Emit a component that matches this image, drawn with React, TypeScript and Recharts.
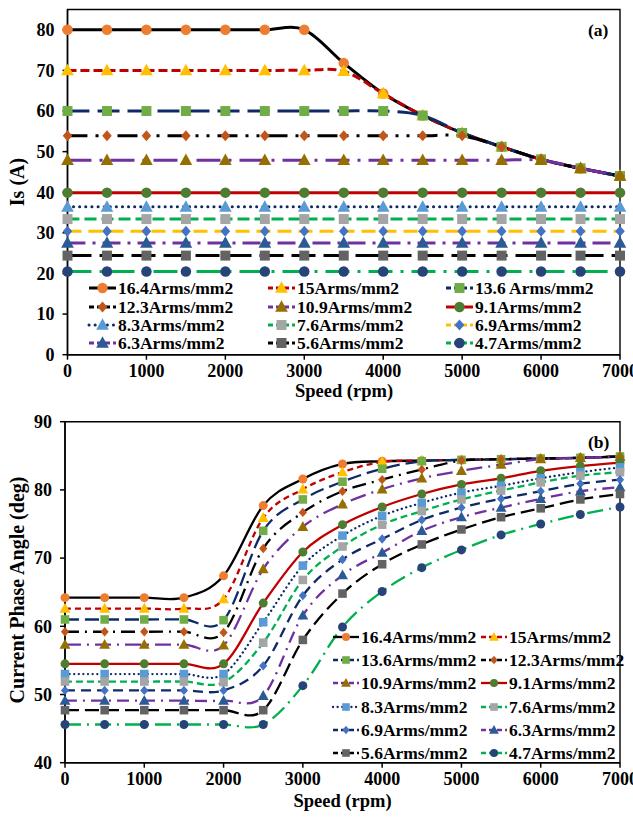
import React from 'react';
import { LineChart, Line, XAxis, YAxis, ReferenceArea } from 'recharts';

// Shared x categories (motor speed, rpm)
const speedRpm = [0, 500, 1000, 1500, 2000, 2500, 3000, 3500, 4000, 4500, 5000, 5500, 6000, 6500, 7000];
const speedTicks = [0, 1000, 2000, 3000, 4000, 5000, 6000, 7000];
const currentTicks = [0, 10, 20, 30, 40, 50, 60, 70, 80];
const angleTicks = [40, 50, 60, 70, 80, 90];

// Current density of each curve (Arms/mm2)
const densities = ['16.4', '15', '13.6', '12.3', '10.9', '9.1', '8.3', '7.6', '6.9', '6.3', '5.6', '4.7'];

// (a) stator current Is (A)
const is164 = [80, 80, 80, 80, 80, 80, 80, 71.8, 64.3, 58.9, 54.6, 51.2, 48.1, 45.9, 44.0];
const is150 = [70, 70, 70, 70, 70, 70, 70, 69.8, 64.3, 58.9, 54.6, 51.2, 48.1, 45.9, 44.0];
const is136 = [60, 60, 60, 60, 60, 60, 60, 60, 60, 58.9, 54.6, 51.2, 48.1, 45.9, 44.0];
const is123 = [53.9, 53.9, 53.9, 53.9, 53.9, 53.9, 53.9, 53.9, 53.9, 53.9, 53.9, 51.2, 48.1, 45.9, 44.0];
const is109 = [47.9, 47.9, 47.9, 47.9, 47.9, 47.9, 47.9, 47.9, 47.9, 47.9, 47.9, 47.9, 47.9, 45.9, 44.0];
const is91 = [39.9, 39.9, 39.9, 39.9, 39.9, 39.9, 39.9, 39.9, 39.9, 39.9, 39.9, 39.9, 39.9, 39.9, 39.9];
const is83 = [36.4, 36.4, 36.4, 36.4, 36.4, 36.4, 36.4, 36.4, 36.4, 36.4, 36.4, 36.4, 36.4, 36.4, 36.4];
const is76 = [33.4, 33.4, 33.4, 33.4, 33.4, 33.4, 33.4, 33.4, 33.4, 33.4, 33.4, 33.4, 33.4, 33.4, 33.4];
const is69 = [30.4, 30.4, 30.4, 30.4, 30.4, 30.4, 30.4, 30.4, 30.4, 30.4, 30.4, 30.4, 30.4, 30.4, 30.4];
const is63 = [27.5, 27.5, 27.5, 27.5, 27.5, 27.5, 27.5, 27.5, 27.5, 27.5, 27.5, 27.5, 27.5, 27.5, 27.5];
const is56 = [24.4, 24.4, 24.4, 24.4, 24.4, 24.4, 24.4, 24.4, 24.4, 24.4, 24.4, 24.4, 24.4, 24.4, 24.4];
const is47 = [20.5, 20.5, 20.5, 20.5, 20.5, 20.5, 20.5, 20.5, 20.5, 20.5, 20.5, 20.5, 20.5, 20.5, 20.5];

// (b) current phase angle (deg)
const ang164 = [64.2, 64.2, 64.2, 64.2, 67.4, 77.7, 81.6, 83.8, 84.2, 84.3, 84.4, 84.5, 84.6, 84.7, 84.9];
const ang150 = [62.6, 62.6, 62.6, 62.6, 64.0, 75.9, 80.1, 82.6, 84.1, 84.3, 84.4, 84.5, 84.6, 84.7, 84.9];
const ang136 = [61.0, 61.0, 61.0, 61.0, 60.9, 74.0, 78.6, 81.2, 83.1, 84.2, 84.4, 84.5, 84.6, 84.7, 84.9];
const ang123 = [59.2, 59.2, 59.2, 59.2, 59.1, 71.4, 76.7, 79.8, 81.5, 83.0, 84.3, 84.5, 84.6, 84.7, 84.9];
const ang109 = [57.3, 57.3, 57.3, 57.3, 57.2, 68.4, 74.6, 77.9, 80.1, 81.7, 82.8, 83.7, 84.5, 84.7, 84.9];
const ang91 = [54.5, 54.5, 54.5, 54.5, 54.5, 63.4, 70.9, 74.9, 77.5, 79.4, 80.8, 81.7, 82.8, 83.5, 84.0];
const ang83 = [53.0, 53.0, 53.0, 53.0, 53.0, 60.6, 68.9, 73.3, 76.2, 78.1, 79.6, 80.6, 81.7, 82.6, 83.3];
const ang76 = [51.9, 51.9, 51.9, 51.9, 51.8, 57.6, 66.8, 71.7, 74.9, 76.9, 78.6, 79.9, 81.1, 82.1, 82.6];
const ang69 = [50.6, 50.6, 50.6, 50.6, 50.6, 54.2, 64.5, 69.8, 72.8, 75.6, 77.4, 78.7, 79.8, 80.9, 81.5];
const ang63 = [49.1, 49.1, 49.1, 49.1, 49.1, 49.8, 61.6, 67.5, 70.8, 74.0, 76.0, 77.4, 78.7, 79.8, 80.4];
const ang56 = [47.7, 47.7, 47.7, 47.7, 47.7, 47.7, 58.0, 64.8, 69.1, 72.0, 74.2, 76.0, 77.3, 78.6, 79.4];
const ang47 = [45.6, 45.6, 45.6, 45.6, 45.6, 45.6, 51.3, 59.9, 65.1, 68.6, 71.2, 73.4, 75.0, 76.4, 77.5];

const currentSeries = [is164, is150, is136, is123, is109, is91, is83, is76, is69, is63, is56, is47];
const angleSeries = [ang164, ang150, ang136, ang123, ang109, ang91, ang83, ang76, ang69, ang63, ang56, ang47];

const legendNamesA = densities.map((d) => (d === '13.6' ? `${d} Arms/mm2` : `${d}Arms/mm2`));
const legendNamesB = densities.map((d) => `${d}Arms/mm2`);

const rowsA = speedRpm.map((speed, i) => {
  const row: Record<string, number> = { speed };
  currentSeries.forEach((s, k) => (row[`s${k}`] = s[i]));
  return row;
});
const rowsB = speedRpm.map((speed, i) => {
  const row: Record<string, number> = { speed };
  angleSeries.forEach((s, k) => (row[`s${k}`] = s[i]));
  return row;
});

type Shape = 'circle' | 'square' | 'triangle' | 'diamond';
interface SeriesStyle {
  stroke: string;
  dash?: string;
  dotted?: boolean;
  shape: Shape;
  fill: string;
}

const ORANGE = '#ED7D31';
const GOLD = '#FFC000';
const LEAF = '#70AD47';
const BROWN = '#C0561A';
const OLIVE = '#957000';
const FOREST = '#4E7D32';
const SKY = '#5B9BD5';
const GREY = '#A5A5A5';
const BLUE = '#4472C4';
const STEEL = '#2B5B94';
const SLATE = '#636363';
const NAVYDOT = '#264478';
const RED = '#C00000';
const NAVY = '#0E2A66';
const PURPLE = '#7030A0';
const GREEN = '#00B050';

const stylesA: SeriesStyle[] = [
  { stroke: '#000', shape: 'circle', fill: ORANGE },
  { stroke: RED, dash: '9 4', shape: 'triangle', fill: GOLD },
  { stroke: NAVY, dash: '22 8', shape: 'square', fill: LEAF },
  { stroke: '#000', dash: '20 8 3 8 3 8', shape: 'diamond', fill: BROWN },
  { stroke: PURPLE, dash: '24 8 3 8', shape: 'triangle', fill: OLIVE },
  { stroke: RED, shape: 'circle', fill: FOREST },
  { stroke: NAVY, dash: '0.1 6', dotted: true, shape: 'triangle', fill: SKY },
  { stroke: GREEN, dash: '12 5', shape: 'square', fill: GREY },
  { stroke: GOLD, dash: '14 7', shape: 'diamond', fill: BLUE },
  { stroke: PURPLE, dash: '18 7 3 7', shape: 'triangle', fill: STEEL },
  { stroke: '#000', dash: '24 8', shape: 'square', fill: SLATE },
  { stroke: GREEN, dash: '24 8 3 8', shape: 'circle', fill: NAVYDOT },
];

const stylesB: SeriesStyle[] = [
  { stroke: '#000', shape: 'circle', fill: ORANGE },
  { stroke: RED, dash: '6 4', shape: 'triangle', fill: GOLD },
  { stroke: NAVY, dash: '14 6', shape: 'square', fill: LEAF },
  { stroke: '#000', dash: '14 6 2 6', shape: 'diamond', fill: BROWN },
  { stroke: PURPLE, dash: '16 6 2 6', shape: 'triangle', fill: OLIVE },
  { stroke: RED, shape: 'circle', fill: FOREST },
  { stroke: NAVY, dash: '0.1 4.5', dotted: true, shape: 'square', fill: SKY },
  { stroke: GREEN, dash: '7 4', shape: 'square', fill: GREY },
  { stroke: NAVY, dash: '10 6', shape: 'diamond', fill: BLUE },
  { stroke: PURPLE, dash: '12 6 2 6', shape: 'triangle', fill: STEEL },
  { stroke: '#000', dash: '14 6', shape: 'square', fill: SLATE },
  { stroke: GREEN, dash: '16 6 2 6', shape: 'circle', fill: NAVYDOT },
];

// Cardinal spline (tension 0, i.e. Catmull-Rom) used as a smooth line interpolator
function smoothCurve(context: any) {
  const k = 1 / 6;
  let x0 = NaN, x1 = NaN, x2 = NaN, y0 = NaN, y1 = NaN, y2 = NaN;
  let pt = 0;
  let line: number = NaN;
  const seg = (x: number, y: number) => {
    context.bezierCurveTo(
      x1 + k * (x2 - x0),
      y1 + k * (y2 - y0),
      x2 + k * (x1 - x),
      y2 + k * (y1 - y),
      x2,
      y2
    );
  };
  return {
    areaStart() { line = 0; },
    areaEnd() { line = NaN; },
    lineStart() { x0 = x1 = x2 = y0 = y1 = y2 = NaN; pt = 0; },
    lineEnd() {
      if (pt === 2) context.lineTo(x2, y2);
      else if (pt === 3) seg(x1, y1);
      if (line || (line !== 0 && pt === 1)) context.closePath();
      line = 1 - line;
    },
    point(xIn: number, yIn: number) {
      const x = +xIn;
      const y = +yIn;
      if (pt === 0) {
        pt = 1;
        if (line) context.lineTo(x, y); else context.moveTo(x, y);
      } else if (pt === 1) {
        pt = 2;
        x1 = x; y1 = y;
      } else {
        pt = 3;
        seg(x, y);
      }
      x0 = x1; x1 = x2; x2 = x;
      y0 = y1; y1 = y2; y2 = y;
    },
  };
}

const markerScale: Record<Shape, number> = { circle: 1, square: 0.95, triangle: 1.1, diamond: 0.95 };

function MarkerShape({ shape, x, y, size, fill }: { shape: Shape; x: number; y: number; size: number; fill: string }) {
  const s = size * markerScale[shape];
  if (shape === 'circle') return <circle cx={x} cy={y} r={s / 2} fill={fill} />;
  if (shape === 'square') return <rect x={x - s / 2} y={y - s / 2} width={s} height={s} fill={fill} />;
  if (shape === 'triangle') {
    const pts = `${x},${y - s * 0.58} ${x + s * 0.55},${y + s * 0.42} ${x - s * 0.55},${y + s * 0.42}`;
    return <polygon points={pts} fill={fill} />;
  }
  const pts = `${x},${y - s * 0.55} ${x + s * 0.48},${y} ${x},${y + s * 0.55} ${x - s * 0.48},${y}`;
  return <polygon points={pts} fill={fill} />;
}

function makeDot(st: SeriesStyle, size: number) {
  return (props: any) => {
    const { cx, cy, index } = props;
    if (cx == null || cy == null) return <g key={`m${index}`} />;
    return <MarkerShape key={`m${index}`} shape={st.shape} x={cx} y={cy} size={size} fill={st.fill} />;
  };
}

const FONT = '"Liberation Serif", "Times New Roman", serif';
const tickStyle = { fill: '#000', fontSize: 18, fontWeight: 700, fontFamily: FONT };
const axisStroke = { stroke: '#000', strokeWidth: 1.5 };

function titleText(x: number, y: number, text: string, size: number, rotate = false) {
  return (
    <text
      x={x}
      y={y}
      textAnchor="middle"
      dominantBaseline="central"
      transform={rotate ? `rotate(-90 ${x} ${y})` : undefined}
      style={{ fontFamily: FONT, fontSize: size, fontWeight: 700, fill: '#000' }}
    >
      {text}
    </text>
  );
}

function LegendSample({ st, width, lineWidth, markerSize }: { st: SeriesStyle; width: number; lineWidth: number; markerSize: number }) {
  return (
    <svg width={width} height={16} style={{ display: 'block', overflow: 'visible' }}>
      <line
        x1={0}
        x2={width}
        y1={8}
        y2={8}
        stroke={st.stroke}
        strokeWidth={lineWidth}
        strokeDasharray={st.dash ? (st.dotted ? st.dash : '5 3') : undefined}
        strokeLinecap={st.dotted ? 'round' : 'butt'}
      />
      <MarkerShape shape={st.shape} x={width / 2} y={8} size={markerSize} fill={st.fill} />
    </svg>
  );
}

function ChartLegend({
  names,
  styles,
  cols,
  colX,
  rowY,
  sampleWidth,
  lineWidth,
  markerSize,
}: {
  names: string[];
  styles: SeriesStyle[];
  cols: number;
  colX: number[];
  rowY: number[];
  sampleWidth: number;
  lineWidth: number;
  markerSize: number;
}) {
  return (
    <>
      {names.map((name, i) => {
        const c = i % cols;
        const r = Math.floor(i / cols);
        return (
          <div
            key={name}
            style={{
              position: 'absolute',
              left: colX[c],
              top: rowY[r] - 10,
              height: 20,
              display: 'flex',
              alignItems: 'center',
              whiteSpace: 'nowrap',
              fontFamily: FONT,
              fontSize: 17.5,
              fontWeight: 700,
              color: '#000',
            }}
          >
            <LegendSample st={styles[i]} width={sampleWidth} lineWidth={lineWidth} markerSize={markerSize} />
            <span style={{ marginLeft: 2, lineHeight: '20px' }}>{name}</span>
          </div>
        );
      })}
    </>
  );
}

export default function App() {
  return (
    <div style={{ position: 'absolute', left: 0, top: 0, width: 633, height: 820, background: '#fff', overflow: 'hidden' }}>
      {/* (a) stator current vs speed */}
      <div style={{ position: 'absolute', left: 0, top: 0 }}>
        <LineChart width={633} height={405} data={rowsA} margin={{ top: 9.5, right: 13, bottom: 0, left: 0 }}>
          <XAxis
            type="number"
            dataKey="speed"
            domain={[0, 7000]}
            ticks={speedTicks}
            interval={0}
            height={50.3}
            tickSize={5}
            tickMargin={5}
            tick={tickStyle}
            axisLine={axisStroke}
            tickLine={axisStroke}
            label={() => titleText(344, 391, 'Speed (rpm)', 18.5)}
          />
          <YAxis
            type="number"
            domain={[0, 85]}
            ticks={currentTicks}
            interval={0}
            width={67.5}
            tickSize={5}
            tickMargin={8}
            tick={tickStyle}
            axisLine={axisStroke}
            tickLine={axisStroke}
            label={() => titleText(17, 182, 'Is (A)', 20, true)}
          />
          <ReferenceArea x1={0} x2={7000} y1={0} y2={85} fill="none" stroke="#000" strokeWidth={1.4} />
          {stylesA.map((st, k) => (
            <Line
              key={`a${k}`}
              dataKey={`s${k}`}
              type={smoothCurve as any}
              stroke={st.stroke}
              strokeWidth={3}
              strokeDasharray={st.dash}
              strokeLinecap={st.dotted ? 'round' : 'butt'}
              dot={makeDot(st, 10.5)}
              activeDot={false}
              isAnimationActive={false}
            />
          ))}
        </LineChart>
        <div style={{ position: 'absolute', left: 588, top: 20, fontFamily: FONT, fontSize: 17.5, fontWeight: 700, lineHeight: '20px' }}>(a)</div>
        <ChartLegend
          names={legendNamesA}
          styles={stylesA}
          cols={3}
          colX={[89, 268, 446]}
          rowY={[288, 306.5, 325, 343.3]}
          sampleWidth={27}
          lineWidth={3}
          markerSize={10.5}
        />
      </div>

      {/* (b) current phase angle vs speed */}
      <div style={{ position: 'absolute', left: 0, top: 400 }}>
        <LineChart width={633} height={420} data={rowsB} margin={{ top: 21.7, right: 13, bottom: 0, left: 0 }}>
          <XAxis
            type="number"
            dataKey="speed"
            domain={[0, 7000]}
            ticks={speedTicks}
            interval={0}
            height={57.3}
            tickSize={5}
            tickMargin={5}
            tick={tickStyle}
            axisLine={axisStroke}
            tickLine={axisStroke}
            label={() => titleText(342.5, 401, 'Speed (rpm)', 18.5)}
          />
          <YAxis
            type="number"
            domain={[40, 90]}
            ticks={angleTicks}
            interval={0}
            width={65}
            tickSize={5}
            tickMargin={8}
            tick={tickStyle}
            axisLine={axisStroke}
            tickLine={axisStroke}
            label={() => titleText(17, 190, 'Current Phase Angle (deg)', 20, true)}
          />
          <ReferenceArea x1={0} x2={7000} y1={40} y2={90} fill="none" stroke="#000" strokeWidth={1.4} />
          {stylesB.map((st, k) => (
            <Line
              key={`b${k}`}
              dataKey={`s${k}`}
              type={smoothCurve as any}
              stroke={st.stroke}
              strokeWidth={2.3}
              strokeDasharray={st.dash}
              strokeLinecap={st.dotted ? 'round' : 'butt'}
              dot={makeDot(st, 9)}
              activeDot={false}
              isAnimationActive={false}
            />
          ))}
        </LineChart>
        <div style={{ position: 'absolute', left: 588, top: 32, fontFamily: FONT, fontSize: 17.5, fontWeight: 700, lineHeight: '20px' }}>(b)</div>
        <ChartLegend
          names={legendNamesB}
          styles={stylesB}
          cols={2}
          colX={[333, 481]}
          rowY={[236.7, 260, 283.3, 306.5, 330, 353.3]}
          sampleWidth={26}
          lineWidth={2.3}
          markerSize={8}
        />
      </div>
    </div>
  );
}
